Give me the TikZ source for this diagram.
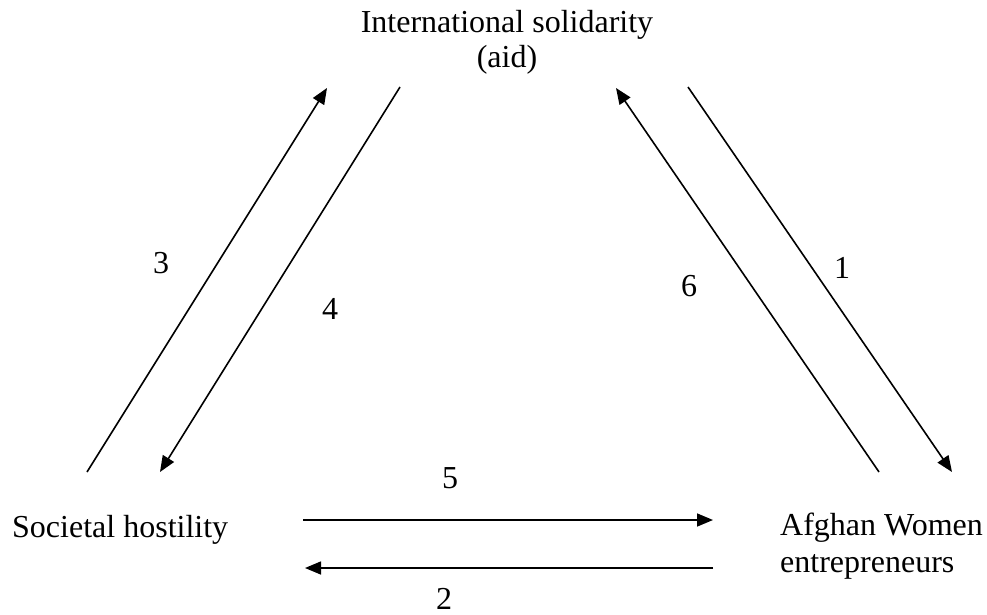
\documentclass[tikz,border=0pt]{standalone}
\usepackage{fontspec}
\setmainfont{Liberation Serif}
\usetikzlibrary{arrows.meta}
\begin{document}
\begin{tikzpicture}[x=1pt,y=-1pt,
  lbl/.style={inner sep=0pt,font=\fontsize{32}{36}\selectfont},
  conn/.style={line width=1.6pt,-{Triangle[length=16pt,width=13pt]}}]
\useasboundingbox (0,0) rectangle (987,615);
% main nodes
\node[lbl,align=center,anchor=north] (intl) at (507,10) {International solidarity\\[-1pt](aid)};
\node[lbl,anchor=base west] (soc) at (12,537) {Societal hostility};
\node[lbl,align=left,anchor=north west,font=\fontsize{32}{37}\selectfont] (afg) at (780,513) {Afghan Women\\entrepreneurs};
% endpoints
\coordinate (a3s) at (87,472);  \coordinate (a3e) at (327,88);
\coordinate (a4s) at (400,87);  \coordinate (a4e) at (160,472);
\coordinate (a6s) at (879,472); \coordinate (a6e) at (616,88);
\coordinate (a1s) at (688,87);  \coordinate (a1e) at (952,472);
\coordinate (a5s) at (303,520); \coordinate (a5e) at (713,520);
\coordinate (a2s) at (713,568); \coordinate (a2e) at (305,568);
% connectors
\draw[conn] (a3s) -- (a3e);
\draw[conn] (a4s) -- (a4e);
\draw[conn] (a6s) -- (a6e);
\draw[conn] (a1s) -- (a1e);
\draw[conn] (a5s) -- (a5e);
\draw[conn] (a2s) -- (a2e);
% labels
\node[lbl] (n3) at (161,263) {3};
\node[lbl] (n4) at (330,309) {4};
\node[lbl] (n6) at (689,286) {6};
\node[lbl] (n1) at (842,268) {1};
\node[lbl] (n5) at (450,478) {5};
\node[lbl] (n2) at (444,599) {2};
\end{tikzpicture}
\end{document}
